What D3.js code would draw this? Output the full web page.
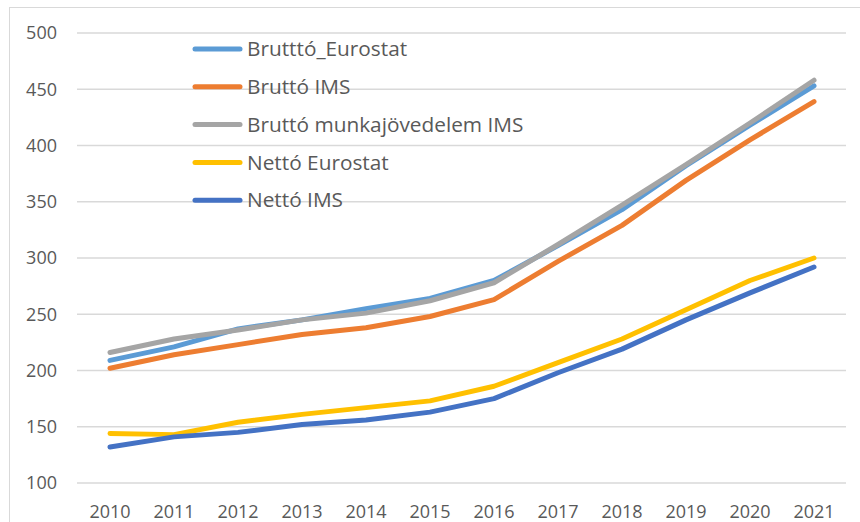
<!DOCTYPE html>
<html>
<head>
<meta charset="utf-8">
<script src="https://cdn.jsdelivr.net/npm/d3@7"></script>
<style>
  body { margin: 0; background: #fff; }
  text { font-family: "Open Sans", "Noto Sans", sans-serif; fill: #595959; }
</style>
</head>
<body>
<div id="chart"></div>
<script>
// data
const years = [2010, 2011, 2012, 2013, 2014, 2015, 2016, 2017, 2018, 2019, 2020, 2021];
const bruttoEurostat = [209, 221, 237, 245, 255, 264, 280, 311, 343, 382, 418, 453];
const bruttoIMS = [202, 214, 223, 232, 238, 248, 263, 297, 329, 369, 405, 439];
const bruttoMunka = [216, 228, 236, 245, 251, 262, 278, 312, 347, 383, 420, 458];
const nettoEurostat = [144, 143, 154, 161, 167, 173, 186, 207, 228, 254, 280, 300];
const nettoIMS = [132, 141, 145, 152, 156, 163, 175, 198, 219, 245, 269, 292];
const yTicks = [100, 150, 200, 250, 300, 350, 400, 450, 500];

const series = [
  {name: "Brutttó_Eurostat", values: bruttoEurostat, color: "#5B9BD5"},
  {name: "Bruttó IMS", values: bruttoIMS, color: "#ED7D31"},
  {name: "Bruttó munkajövedelem IMS", values: bruttoMunka, color: "#A5A5A5"},
  {name: "Nettó Eurostat", values: nettoEurostat, color: "#FFC000"},
  {name: "Nettó IMS", values: nettoIMS, color: "#4472C4"}
];

const W = 860, H = 522;
const svg = d3.select("#chart").append("svg")
  .attr("width", W).attr("height", H);

// chart area border
svg.append("rect")
  .attr("x", 9.5).attr("y", 7.5)
  .attr("width", 900).attr("height", 600)
  .attr("fill", "none").attr("stroke", "#D9D9D9").attr("stroke-width", 1);

const x = d3.scalePoint().domain(years).range([110, 814]);
const y = d3.scaleLinear().domain([100, 500]).range([483, 33]);

// gridlines
svg.append("g").selectAll("line")
  .data(yTicks).join("line")
  .attr("x1", 77).attr("x2", 846)
  .attr("y1", d => y(d)).attr("y2", d => y(d))
  .attr("stroke", "#D9D9D9").attr("stroke-width", 1.3);

// y labels
svg.append("g").selectAll("text")
  .data(yTicks).join("text")
  .attr("x", 57).attr("y", d => y(d))
  .attr("dy", "0.35em")
  .attr("text-anchor", "end")
  .style("font-size", "18px")
  .text(d => d);

// x labels
svg.append("g").selectAll("text")
  .data(years).join("text")
  .attr("x", d => x(d)).attr("y", 518)
  .attr("text-anchor", "middle")
  .style("font-size", "18px")
  .text(d => d);

// lines
const line = d3.line()
  .x((d, i) => x(years[i]))
  .y(d => y(d));

svg.append("g").selectAll("path")
  .data(series).join("path")
  .attr("d", d => line(d.values))
  .attr("fill", "none")
  .attr("stroke", d => d.color)
  .attr("stroke-width", 5)
  .attr("stroke-linecap", "round")
  .attr("stroke-linejoin", "round");

// legend
const legend = svg.append("g").selectAll("g")
  .data(series).join("g")
  .attr("transform", (d, i) => `translate(0,${49 + i * 37.8})`);

legend.append("line")
  .attr("x1", 195).attr("x2", 240)
  .attr("stroke", d => d.color)
  .attr("stroke-width", 5)
  .attr("stroke-linecap", "round");

legend.append("text")
  .attr("x", 247).attr("dy", "0.35em")
  .style("font-size", "20.8px")
  .text(d => d.name);
</script>
</body>
</html>
